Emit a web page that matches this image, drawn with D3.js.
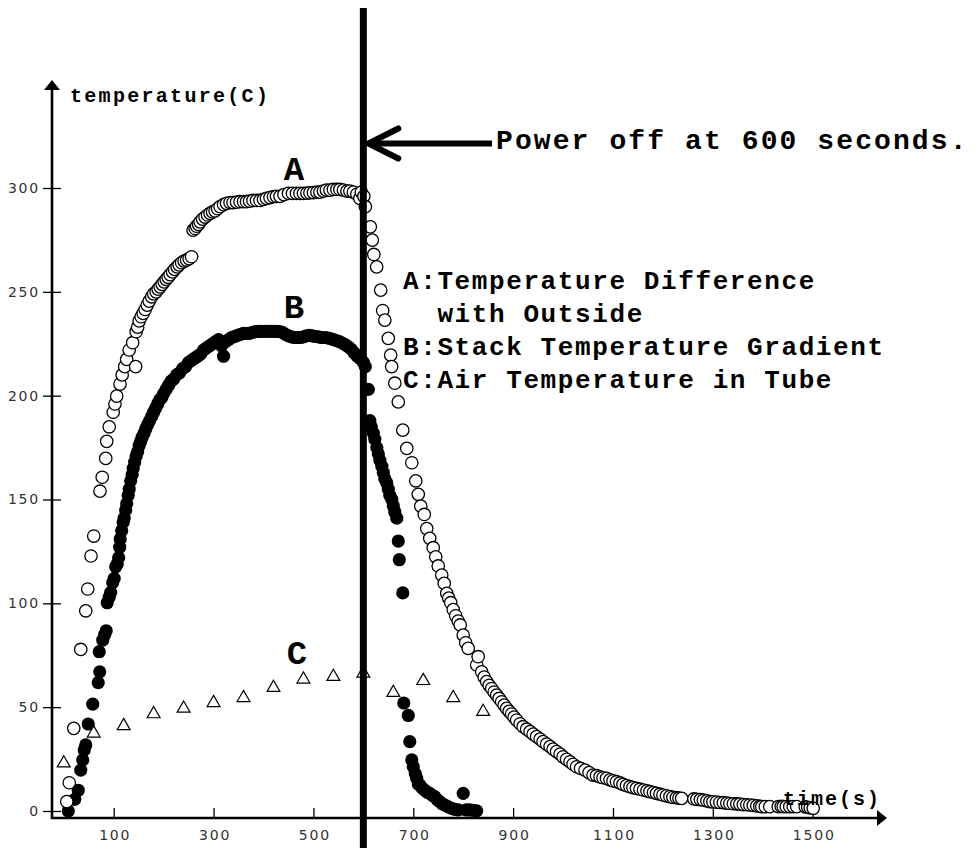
<!DOCTYPE html>
<html>
<head>
<meta charset="utf-8">
<script src="https://cdn.jsdelivr.net/npm/d3@7"></script>
<style>
body { margin: 0; background: #fff; }
.tick text { font-family: "DejaVu Sans", sans-serif; font-size: 14px; fill: #333; letter-spacing: 1.8px; }
.tick line { stroke: #000; stroke-width: 1.3; }
.mono { font-family: "Liberation Mono", monospace; font-weight: bold; fill: #000; white-space: pre; }
</style>
</head>
<body>
<div id="chart"></div>
<script>
// tick labels
var xTicks = [100, 300, 500, 700, 900, 1100, 1300, 1500];
var yTicks = [0, 50, 100, 150, 200, 250, 300];

// A: Temperature Difference with Outside  [time, temp]
var seriesA = [
  [6,4.5],[11,13.6],[20,39.8],[34,77.8],[44,96.4],[48,106.9],[54.5,122.8],[60,132.4],
  [72.5,154],[77,160.7],[84,169.8],[86,178],[91,185],[99,192],[102.5,196],[106,199.8],
  [112.6,205.6],[117,210],[122,214],[126,217.5],[131,222],[138,225.5],[144,214],[145,230.8],
  [148,233],[151,236],[155,238],[159,239.6],[163,241.5],[167,243.6],[171,245.5],[176,247.6],
  [180,249],[185,250],[189,251.3],[193,252.4],[197,253.6],[201,254.8],[205,256],[209,257],
  [213,258.3],[218,259.6],[222,260.8],[227,262],[231,263],[236,264],[241,264.8],[246,265.3],
  [251,266],[256,266.9],
  [259,279.7],[263,280.5],[266,281.6],[270,282.5],[273,283.7],[278,285],[283,286],[288,287],
  [293,287.8],[298,288.5],[303,289],[308,290],[313,291],[320,292],[326,292.6],[333,293],
  [339,293],[346,293.2],[353,293.4],[360,293.4],[366,293.4],[372,293.7],[379,294],[386,294],
  [393,294],[400,294.5],[406,295],[413,295.4],[420,295.8],[426,296],[433,296],[441,296.8],
  [450,297.4],[458,297.4],[466,297.4],[473,297.4],[480,297.4],[487,297.5],[493,297.7],
  [500,297.8],[507,298],[513,298],[520,298.5],[526,299],[533,299],[540,299.3],[547,299.3],
  [553,299.3],[560,299],[567,298.5],[573,298.5],[580,298],[587,297],[593,295],[596,298],
  [601,296],[604,291],
  [614,281.3],[618,274.9],[621,268],[626.7,262],[634.7,250.8],[638.7,241],[643,236.4],
  [650,227.6],[654.7,219.5],[656.7,214],[663,206],[670,197],[679,183.4],[687,174.6],
  [697,167.7],[705,159],[710,152.5],[715,146.8],[722,142.8],[727,136],[733,131.3],[740,126.8],
  [745,122.4],[750,118],[757,113.6],[762,109.6],[767,104.8],[771,102.5],[775,100.3],[780,97],
  [785,94],[790,91.5],[794,89.6],[800,84.7],[805,81],[810,78.3],[827,70.3],[830,74.3],
  [837,67],[842,64.5],[847,62.3],[852,60.5],[857,59],[862,57.3],[867,55.8],[872,54.2],
  [877,52.6],[882,51],[887,49.4],[892,48],[897,46.7],[902,45.2],[907,43.8],[914,42],
  [920,40.6],[927,39.4],[934,38.2],[940,37],[947,35.8],[954,34.6],[960,33.4],[967,32.2],
  [974,31],[980,29.8],[987,28.6],[994,27.4],[1000,26.1],[1007,24.9],[1014,23.7],[1020,22.5],
  [1027,21.3],[1035,20.5],[1044,19.7],[1052,18.5],[1060,17.3],[1067,17],[1074,16.4],
  [1080,16],[1087,15.7],[1094,15],[1100,14.5],[1107,14.1],[1114,13.5],[1120,12.8],
  [1127,12.2],[1134,11.7],[1140,11.3],[1147,10.9],[1154,10.5],[1161,10.1],[1168,9.7],
  [1174,9.3],[1181,8.9],[1187,8.5],[1194,8.1],[1200,7.7],[1207,7.3],[1214,6.9],[1220,6.6],
  [1227,6.4],[1232,6.2],[1237.5,6.1],[1262,5.8],[1268,5.6],[1275,5.5],[1281,5.2],[1288,4.9],
  [1294,4.5],[1300,4.4],[1307,4.3],[1314,4.1],[1321,4],[1328,3.8],[1334,3.6],[1341,3.5],
  [1348,3.4],[1354,3.3],[1361,3.1],[1368,3],[1374,2.9],[1381,2.7],[1388,2.5],[1394,2.2],
  [1398,2.1],[1405,2.1],[1414,2.1],[1431,2.1],[1437,2.2],[1441,2.1],[1447,2.1],[1454,2.1],
  [1461,2.1],[1468,2.1],[1485,2],[1490,1.8],[1495,1.5],[1501,1.3]
];

// B: Stack Temperature Gradient
var seriesB = [
  [9,0],[22,5.6],[29,10],[34,19.7],[38,24.6],[41,29.4],[44,31.8],[49,41.9],[58,51.5],
  [69,61.8],[72,67],[71,76.7],[78,82.3],[82,85],[85,86.8],[87,100.3],[91,103],[94,105.3],
  [98,110],[101,112],[104,117.6],[107,119],[110,122],[112,127],[113,131],[116,135],[119,139],
  [121,141],[124,145],[126,148],[129,152],[131,155],[134,159],[137,162],[139,165],[142,168],
  [145,171],[148,173],[151,176],[154,178],[157,180],[161,182],[164,184],[168,186],[172,188],
  [176,190],[180,192],[184,194],[188,196],[192,198],[196,199],[200,201],[205,203],[210,205],
  [215,207],[220,208],[226,210],[232,211],[238,213],[244,214],[250,216],[256,217],[262,218],
  [268,219],[274,220],[280,222],[286,223],[292,224],[298,225],[304,226],[310,227],[316,224],
  [320,219],[324,226],[330,227],[336,228],[342,228.5],[348,229],[354,229.5],[360,230],
  [366,230],[372,230],[378,230.5],[384,230.8],[390,231],[396,231],[402,231],[408,231],
  [414,231],[420,231],[426,231],[432,230.8],[438,230.5],[444,229.5],[450,228.8],[456,228.3],
  [462,228],[468,228],[474,228],[480,228.3],[486,228.8],[492,229],[498,228.8],[504,228.5],
  [510,228.3],[516,228],[522,228],[528,227.8],[534,227.5],[540,227],[546,226.5],[552,226],
  [558,225.3],[564,224.5],[570,223.5],[576,222.3],[582,220.5],[588,219],[594,217.8],
  [600,216],[604,214],[610,203],[613,188],[616,185],[620,182],[623,179],[627,175],[630,172],
  [633,169],[637,166],[640,163],[643,160],[647,158],[650,155],[653,152],[657,150],[660,147],
  [663,144],[667,141],[670,130],[672,121],[679,105],[681,52],[690,46],[693,33.4],[697,24.6],
  [700,21.3],[704,18],[707,15.7],[710,13],[713,12.5],[718,11],[723,10],[728,9],[733,8.5],
  [738,7.5],[743,6.9],[748,5.5],[753,4.5],[758,3.5],[763,2.9],[770,2],[777,1.3],[783,0.8],
  [790,0.5],[800,8.5],[806,0.5],[813,0.5],[820,0.3],[827,0.1]
];

// C: Air Temperature in Tube
var seriesC = [
  [0,23],[60,37.4],[120,41],[180,46.7],[240,49.4],[300,52.1],[360,54.5],[420,59.4],
  [480,63.4],[540,64.7],[600,66.3],[660,57],[720,62.7],[780,54.5],[840,47.8]
];

var powerOff = 600;
var legendLines = ["A:Temperature Difference", "  with Outside", "B:Stack Temperature Gradient", "C:Air Temperature in Tube"];

var W = 975, H = 850;
var axisX = 52, axisY = 818;

var svg = d3.select('#chart').append('svg')
  .attr('width', W)
  .attr('height', H);

var x = d3.scaleLinear().domain([100, 1500]).range([113.7, 812.7]);
var y = d3.scaleLinear().domain([0, 300]).range([811, 188]);

// axes lines with arrows
svg.append('line')
  .attr('x1', axisX).attr('y1', axisY + 1)
  .attr('x2', axisX).attr('y2', 88)
  .attr('stroke', '#000').attr('stroke-width', 2.6);
svg.append('path')
  .attr('d', 'M' + axisX + ',80 L' + (axisX - 8) + ',90 L' + (axisX + 8) + ',90 Z')
  .attr('fill', '#000');

svg.append('line')
  .attr('x1', axisX - 1).attr('y1', axisY)
  .attr('x2', 878).attr('y2', axisY)
  .attr('stroke', '#000').attr('stroke-width', 2.6);
svg.append('path')
  .attr('d', 'M887,' + axisY + ' L877,' + (axisY - 8) + ' L877,' + (axisY + 8) + ' Z')
  .attr('fill', '#000');

// y axis ticks
var gy = svg.append('g')
  .attr('transform', 'translate(' + axisX + ',0)')
  .call(d3.axisLeft(y).tickValues(yTicks).tickFormat(d3.format('d')).tickSize(9).tickPadding(5));
gy.select('.domain').remove();
gy.selectAll('.tick line').attr('x1', 9);
gy.selectAll('.tick text').attr('dx', '2px');

// x axis ticks (marks go up, labels below)
var gx = svg.append('g')
  .attr('transform', 'translate(0,' + axisY + ')')
  .call(d3.axisBottom(x).tickValues(xTicks).tickFormat(d3.format('d')).tickSize(-10).tickPadding(12));
gx.select('.domain').remove();
gx.selectAll('.tick text').attr('dx', '1px');

// B filled dots
svg.append('g').selectAll('circle')
  .data(seriesB)
  .enter().append('circle')
  .attr('cx', function(d) { return x(d[0]); })
  .attr('cy', function(d) { return y(d[1]); })
  .attr('r', 6.6)
  .attr('fill', '#000');

// A open circles
svg.append('g').selectAll('circle')
  .data(seriesA)
  .enter().append('circle')
  .attr('cx', function(d) { return x(d[0]); })
  .attr('cy', function(d) { return y(d[1]); })
  .attr('r', 6.2)
  .attr('fill', '#fff')
  .attr('stroke', '#000')
  .attr('stroke-width', 1.3);

// C open triangles
svg.append('g').selectAll('path')
  .data(seriesC)
  .enter().append('path')
  .attr('d', d3.symbol().type(d3.symbolTriangle).size(72))
  .attr('transform', function(d) { return 'translate(' + x(d[0]) + ',' + y(d[1]) + ')'; })
  .attr('fill', '#fff')
  .attr('stroke', '#000')
  .attr('stroke-width', 1.2);

// power off line
svg.append('line')
  .attr('x1', x(powerOff)).attr('y1', 8)
  .attr('x2', x(powerOff)).attr('y2', 848)
  .attr('stroke', '#000').attr('stroke-width', 7);

// arrow
var ax = x(powerOff) + 5, ay = 143.5;
svg.append('path')
  .attr('d', 'M' + (ax + 2) + ',' + ay + ' L492,' + ay)
  .attr('stroke', '#000').attr('stroke-width', 6).attr('fill', 'none');
svg.append('path')
  .attr('d', 'M' + (ax + 30) + ',' + (ay - 15) + ' L' + ax + ',' + ay + ' L' + (ax + 30) + ',' + (ay + 15))
  .attr('stroke', '#000').attr('stroke-width', 6).attr('fill', 'none')
  .attr('stroke-linecap', 'round').attr('stroke-linejoin', 'miter');

svg.append('text').attr('class', 'mono')
  .attr('x', 496).attr('y', 148.5)
  .style('font-size', '28px').style('letter-spacing', '2.1px')
  .text('Power off at 600 seconds.');

// legend
svg.selectAll('.legend')
  .data(legendLines)
  .enter().append('text')
  .attr('class', 'mono legend')
  .attr('x', 403)
  .attr('y', function(d, i) { return 288.5 + i * 33.3; })
  .style('font-size', '26px').style('letter-spacing', '1.6px')
  .text(function(d) { return d; });

// series letters
var letters = [["A", 294, 180], ["B", 294, 318], ["C", 297, 664]];
svg.selectAll('.letter')
  .data(letters)
  .enter().append('text')
  .attr('class', 'mono letter')
  .attr('x', function(d) { return d[1]; })
  .attr('y', function(d) { return d[2]; })
  .attr('text-anchor', 'middle')
  .style('font-size', '34px')
  .text(function(d) { return d[0]; });

// axis titles
svg.append('text').attr('class', 'mono')
  .attr('x', 70).attr('y', 101.5)
  .style('font-size', '20px').style('letter-spacing', '2.3px')
  .text('temperature(C)');
svg.append('text').attr('class', 'mono')
  .attr('x', 783).attr('y', 805)
  .style('font-size', '20px').style('letter-spacing', '2px')
  .text('time(s)');
</script>
</body>
</html>
